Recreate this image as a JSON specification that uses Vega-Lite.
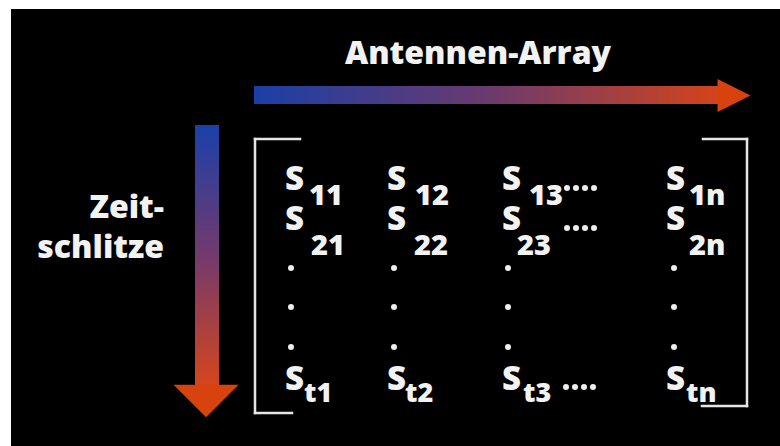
{
  "$schema": "https://vega.github.io/schema/vega-lite/v6.json",
  "width": 780,
  "height": 446,
  "autosize": {"type": "fit", "contains": "padding"},
  "padding": 0,
  "background": "white",
  "config": {"view": {"stroke": null}},
  "datasets": {
    "bg": [{"x": 11, "x2": 780, "y": 9, "y2": 446}],
    "hshaft": [{"x": 254, "x2": 721, "y": 86, "y2": 104}],
    "vshaft": [{"x": 195, "x2": 219, "y": 125, "y2": 390}],
    "hhead": [{"x": 734, "y": 95.5}],
    "vhead": [{"x": 206, "y": 401}],
    "brackets": [
      {"x": 255, "x2": 255, "y": 139, "y2": 413},
      {"x": 255, "x2": 300, "y": 139, "y2": 139},
      {"x": 255, "x2": 292, "y": 413, "y2": 413},
      {"x": 747, "x2": 747, "y": 139, "y2": 406},
      {"x": 703, "x2": 747, "y": 139, "y2": 139},
      {"x": 702, "x2": 747, "y": 406, "y2": 406}
    ],
    "labels": [
      {"kind": "title", "text": "Antennen-Array", "x": 478, "y": 64},
      {"kind": "side", "text": "Zeit-", "x": 164, "y": 218},
      {"kind": "side", "text": "schlitze", "x": 164, "y": 258},
      {"kind": "S", "text": "S", "x": 285, "y": 190},
      {"kind": "S", "text": "S", "x": 387, "y": 190},
      {"kind": "S", "text": "S", "x": 502, "y": 190},
      {"kind": "S", "text": "S", "x": 666, "y": 190},
      {"kind": "S", "text": "S", "x": 285, "y": 230},
      {"kind": "S", "text": "S", "x": 387, "y": 230},
      {"kind": "S", "text": "S", "x": 502, "y": 230},
      {"kind": "S", "text": "S", "x": 666, "y": 230},
      {"kind": "S", "text": "S", "x": 285, "y": 390},
      {"kind": "S", "text": "S", "x": 387, "y": 390},
      {"kind": "S", "text": "S", "x": 502, "y": 390},
      {"kind": "S", "text": "S", "x": 666, "y": 390},
      {"kind": "sub", "text": "11", "x": 309, "y": 205},
      {"kind": "sub", "text": "12", "x": 415, "y": 205},
      {"kind": "sub", "text": "13", "x": 529, "y": 205},
      {"kind": "sub", "text": "1n", "x": 689, "y": 205},
      {"kind": "sub", "text": "21", "x": 311, "y": 255},
      {"kind": "sub", "text": "22", "x": 414, "y": 255},
      {"kind": "sub", "text": "23", "x": 517, "y": 255},
      {"kind": "sub", "text": "2n", "x": 689, "y": 255},
      {"kind": "subt", "text": "t1", "x": 304, "y": 402},
      {"kind": "subt", "text": "t2", "x": 405, "y": 402},
      {"kind": "subt", "text": "t3", "x": 523, "y": 402},
      {"kind": "subt", "text": "tn", "x": 686, "y": 402}
    ],
    "dots": [
      {"x": 291, "y": 268}, {"x": 291, "y": 307}, {"x": 291, "y": 347},
      {"x": 394, "y": 268}, {"x": 394, "y": 307}, {"x": 394, "y": 347},
      {"x": 508, "y": 268}, {"x": 508, "y": 307}, {"x": 508, "y": 347},
      {"x": 674, "y": 268}, {"x": 674, "y": 307}, {"x": 674, "y": 347},
      {"x": 567, "y": 188}, {"x": 576, "y": 188}, {"x": 585, "y": 188}, {"x": 594, "y": 188},
      {"x": 567, "y": 228}, {"x": 576, "y": 228}, {"x": 585, "y": 228}, {"x": 594, "y": 228},
      {"x": 566, "y": 387}, {"x": 575, "y": 387}, {"x": 584, "y": 387}, {"x": 593, "y": 387}
    ]
  },
  "layer": [
    {
      "data": {"name": "bg"},
      "mark": {"type": "rect", "color": "#000000"},
      "encoding": {
        "x": {"field": "x", "type": "quantitative", "scale": {"domain": [0, 780], "nice": false, "zero": false}, "axis": null},
        "x2": {"field": "x2"},
        "y": {"field": "y", "type": "quantitative", "scale": {"domain": [0, 446], "nice": false, "zero": false, "reverse": true}, "axis": null},
        "y2": {"field": "y2"}
      }
    },
    {
      "data": {"name": "hshaft"},
      "mark": {"type": "rect", "color": {"gradient": "linear", "x1": 0, "y1": 0, "x2": 1, "y2": 0, "stops": [{"offset": 0, "color": "#1b3fa6"}, {"offset": 0.5, "color": "#6b3a6e"}, {"offset": 1, "color": "#d4441a"}]}},
      "encoding": {
        "x": {"field": "x", "type": "quantitative", "scale": {"domain": [0, 780], "nice": false, "zero": false}, "axis": null},
        "x2": {"field": "x2"},
        "y": {"field": "y", "type": "quantitative", "scale": {"domain": [0, 446], "nice": false, "zero": false, "reverse": true}, "axis": null},
        "y2": {"field": "y2"}
      }
    },
    {
      "data": {"name": "vshaft"},
      "mark": {"type": "rect", "color": {"gradient": "linear", "x1": 0, "y1": 0, "x2": 0, "y2": 1, "stops": [{"offset": 0, "color": "#1a40aa"}, {"offset": 0.5, "color": "#743a6c"}, {"offset": 1, "color": "#d8461a"}]}},
      "encoding": {
        "x": {"field": "x", "type": "quantitative", "scale": {"domain": [0, 780], "nice": false, "zero": false}, "axis": null},
        "x2": {"field": "x2"},
        "y": {"field": "y", "type": "quantitative", "scale": {"domain": [0, 446], "nice": false, "zero": false, "reverse": true}, "axis": null},
        "y2": {"field": "y2"}
      }
    },
    {
      "data": {"name": "hhead"},
      "mark": {"type": "point", "shape": "M -1 -1 L 1 0 L -1 1 Z", "filled": true, "opacity": 1, "size": 1089, "color": "#d8420f", "strokeWidth": 0},
      "encoding": {
        "x": {"field": "x", "type": "quantitative", "scale": {"domain": [0, 780], "nice": false, "zero": false}, "axis": null},
        "y": {"field": "y", "type": "quantitative", "scale": {"domain": [0, 446], "nice": false, "zero": false, "reverse": true}, "axis": null}
      }
    },
    {
      "data": {"name": "vhead"},
      "mark": {"type": "point", "shape": "M -1 -0.5 L 1 -0.5 L 0 0.5 Z", "filled": true, "opacity": 1, "size": 4225, "color": "#d8420f", "strokeWidth": 0},
      "encoding": {
        "x": {"field": "x", "type": "quantitative", "scale": {"domain": [0, 780], "nice": false, "zero": false}, "axis": null},
        "y": {"field": "y", "type": "quantitative", "scale": {"domain": [0, 446], "nice": false, "zero": false, "reverse": true}, "axis": null}
      }
    },
    {
      "data": {"name": "brackets"},
      "mark": {"type": "rule", "color": "#e6e6e6", "strokeWidth": 2.5, "strokeCap": "square"},
      "encoding": {
        "x": {"field": "x", "type": "quantitative", "scale": {"domain": [0, 780], "nice": false, "zero": false}, "axis": null},
        "x2": {"field": "x2"},
        "y": {"field": "y", "type": "quantitative", "scale": {"domain": [0, 446], "nice": false, "zero": false, "reverse": true}, "axis": null},
        "y2": {"field": "y2"}
      }
    },
    {
      "data": {"name": "dots"},
      "mark": {"type": "point", "shape": "circle", "filled": true, "opacity": 1, "size": 36, "color": "#eeeeee", "strokeWidth": 0},
      "encoding": {
        "x": {"field": "x", "type": "quantitative", "scale": {"domain": [0, 780], "nice": false, "zero": false}, "axis": null},
        "y": {"field": "y", "type": "quantitative", "scale": {"domain": [0, 446], "nice": false, "zero": false, "reverse": true}, "axis": null}
      }
    },
    {
      "data": {"name": "labels"},
      "transform": [{"filter": "datum.kind === 'title'"}],
      "mark": {"type": "text", "font": "Open Sans", "fontWeight": 800, "fontSize": 32, "align": "center", "baseline": "alphabetic", "color": "#f2f2f2"},
      "encoding": {
        "x": {"field": "x", "type": "quantitative", "scale": {"domain": [0, 780], "nice": false, "zero": false}, "axis": null},
        "y": {"field": "y", "type": "quantitative", "scale": {"domain": [0, 446], "nice": false, "zero": false, "reverse": true}, "axis": null},
        "text": {"field": "text"}
      }
    },
    {
      "data": {"name": "labels"},
      "transform": [{"filter": "datum.kind === 'side'"}],
      "mark": {"type": "text", "font": "Open Sans", "fontWeight": 800, "fontSize": 32, "align": "right", "baseline": "alphabetic", "color": "#f2f2f2"},
      "encoding": {
        "x": {"field": "x", "type": "quantitative", "scale": {"domain": [0, 780], "nice": false, "zero": false}, "axis": null},
        "y": {"field": "y", "type": "quantitative", "scale": {"domain": [0, 446], "nice": false, "zero": false, "reverse": true}, "axis": null},
        "text": {"field": "text"}
      }
    },
    {
      "data": {"name": "labels"},
      "transform": [{"filter": "datum.kind === 'S'"}],
      "mark": {"type": "text", "font": "Open Sans", "fontWeight": 800, "fontSize": 33, "align": "left", "baseline": "alphabetic", "color": "#f2f2f2"},
      "encoding": {
        "x": {"field": "x", "type": "quantitative", "scale": {"domain": [0, 780], "nice": false, "zero": false}, "axis": null},
        "y": {"field": "y", "type": "quantitative", "scale": {"domain": [0, 446], "nice": false, "zero": false, "reverse": true}, "axis": null},
        "text": {"field": "text"}
      }
    },
    {
      "data": {"name": "labels"},
      "transform": [{"filter": "datum.kind === 'sub'"}],
      "mark": {"type": "text", "font": "Open Sans", "fontWeight": 800, "fontSize": 29, "align": "left", "baseline": "alphabetic", "color": "#f2f2f2"},
      "encoding": {
        "x": {"field": "x", "type": "quantitative", "scale": {"domain": [0, 780], "nice": false, "zero": false}, "axis": null},
        "y": {"field": "y", "type": "quantitative", "scale": {"domain": [0, 446], "nice": false, "zero": false, "reverse": true}, "axis": null},
        "text": {"field": "text"}
      }
    },
    {
      "data": {"name": "labels"},
      "transform": [{"filter": "datum.kind === 'subt'"}],
      "mark": {"type": "text", "font": "Open Sans", "fontWeight": 800, "fontSize": 27, "align": "left", "baseline": "alphabetic", "color": "#f2f2f2"},
      "encoding": {
        "x": {"field": "x", "type": "quantitative", "scale": {"domain": [0, 780], "nice": false, "zero": false}, "axis": null},
        "y": {"field": "y", "type": "quantitative", "scale": {"domain": [0, 446], "nice": false, "zero": false, "reverse": true}, "axis": null},
        "text": {"field": "text"}
      }
    }
  ]
}
